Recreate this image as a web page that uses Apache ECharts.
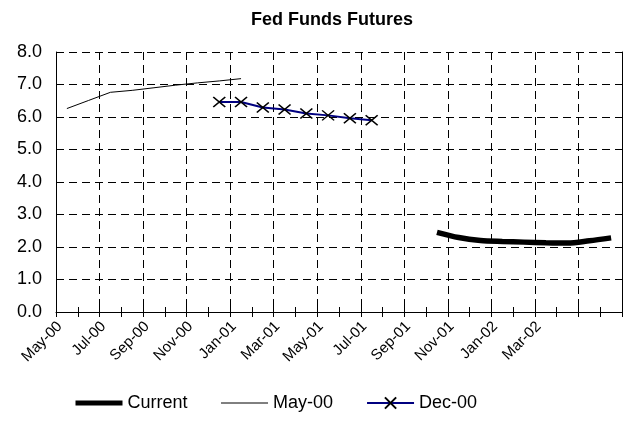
<!DOCTYPE html>
<html>
<head>
<meta charset="utf-8">
<script src="https://cdn.jsdelivr.net/npm/echarts@6/dist/echarts.min.js"></script>
<style>
html,body{margin:0;padding:0;background:#fff;}
#chart{width:625px;height:428px;}
</style>
</head>
<body>
<div id="chart"></div>
<script>
var months = ['May-00','Jun-00','Jul-00','Aug-00','Sep-00','Oct-00','Nov-00','Dec-00',
  'Jan-01','Feb-01','Mar-01','Apr-01','May-01','Jun-01','Jul-01','Aug-01','Sep-01','Oct-01',
  'Nov-01','Dec-01','Jan-02','Feb-02','Mar-02','Apr-02','May-02','Jun-02'];
var lastLabelIndex = 22;
var currentValues = [null,null,null,null,null,null,null,null,null,null,null,null,null,null,null,null,null,
  2.45,2.29,2.20,2.17,2.15,2.13,2.12,2.19,2.28];
var may00Values = [6.26,6.51,6.76,6.82,6.90,6.98,7.05,7.11,7.18,
  null,null,null,null,null,null,null,null,null,null,null,null,null,null,null,null,null];
var dec00Values = [null,null,null,null,null,null,null,
  6.46,6.46,6.29,6.23,6.11,6.05,5.96,5.90,
  null,null,null,null,null,null,null,null,null,null,null];
var yTicks = {min:0, max:8, step:1};

var FONT = 'Liberation Sans, Arial, sans-serif';
var chart = echarts.init(document.getElementById('chart'), null, {renderer:'canvas'});
var X_PATH = 'path://M0,0 L10,10 M10,0 L0,10';
chart.setOption({
  animation:false,
  backgroundColor:'#fff',
  title:{text:'Fed Funds Futures', left:246, top:6,
    textStyle:{fontFamily:FONT, fontSize:18, fontWeight:'bold', color:'#000'}},
  legend:{top:389, left:68, itemWidth:47, itemHeight:14, itemGap:33,
    textStyle:{fontFamily:FONT, fontSize:18, color:'#000'},
    data:[
      {name:'Current', itemStyle:{opacity:0}, lineStyle:{width:5}},
      {name:'May-00', itemStyle:{opacity:0}, lineStyle:{width:1}},
      {name:'Dec-00'}
    ]},
  grid:{left:56, top:52, width:566, height:260, containLabel:false},
  xAxis:[{
    type:'category', data:months, boundaryGap:true,
    axisLine:{show:true, lineStyle:{color:'#000', width:1}},
    axisTick:{show:true, interval:0, length:5, lineStyle:{color:'#000'}},
    axisLabel:{interval:function(i){return i%2===0 && i<=lastLabelIndex;}, rotate:45, margin:5,
      padding:[0,10,0,0], fontFamily:FONT, fontSize:15, color:'#000'},
    splitLine:{show:true, interval:1, lineStyle:{color:'#000', type:[8,5], width:1}}
  },{
    type:'category', data:months, boundaryGap:true, position:'bottom',
    axisLine:{show:false}, axisLabel:{show:false}, splitLine:{show:false},
    axisTick:{show:true, interval:0, inside:true, length:5, lineStyle:{color:'#000'}}
  }],
  yAxis:[{
    type:'value', min:yTicks.min, max:yTicks.max, interval:yTicks.step,
    axisLine:{show:true, lineStyle:{color:'#000'}},
    axisTick:{show:false},
    axisLabel:{margin:14, fontFamily:FONT, fontSize:18, color:'#000',
      formatter:function(v){return v.toFixed(1);}},
    splitLine:{show:true, lineStyle:{color:'#000', type:[8,5], width:1}}
  },{
    type:'value', min:yTicks.min, max:yTicks.max, interval:yTicks.step, position:'right',
    axisLine:{show:true, lineStyle:{color:'#000'}},
    axisTick:{show:false}, axisLabel:{show:false}, splitLine:{show:false}
  }],
  series:[{
    name:'Current', type:'line', data:currentValues, smooth:0.3, showSymbol:false, symbol:'none',
    lineStyle:{color:'#000', width:5.5}, itemStyle:{color:'#000'}
  },{
    name:'May-00', type:'line', data:may00Values, showSymbol:false, symbol:'none',
    lineStyle:{color:'#000', width:1}, itemStyle:{color:'#000'}
  },{
    name:'Dec-00', type:'line', data:dec00Values, symbol:X_PATH, symbolSize:[12,10],
    lineStyle:{color:'#000080', width:2},
    itemStyle:{color:'#000', borderColor:'#000', borderWidth:1.5}
  }]
});
</script>
</body>
</html>
